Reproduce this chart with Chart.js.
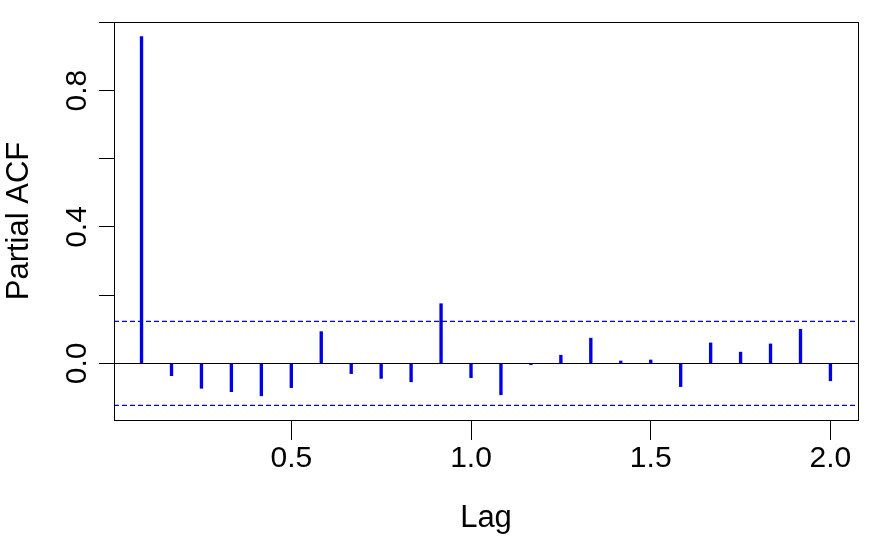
<!DOCTYPE html>
<html>
<head>
<meta charset="utf-8">
<script src="https://cdn.jsdelivr.net/npm/chart.js@4/dist/chart.umd.min.js"></script>
<style>
  body { margin: 0; background: #fff; }
  #wrap { width: 880px; height: 536px; position: relative; }
</style>
</head>
<body>
<div id="wrap"><canvas id="myChart"></canvas></div>
<script>
// lag (in years, monthly series) and partial autocorrelation
const lags = [0.0833, 0.1667, 0.25, 0.3333, 0.4167, 0.5, 0.5833, 0.6667, 0.75, 0.8333, 0.9167, 1.0,
              1.0833, 1.1667, 1.25, 1.3333, 1.4167, 1.5, 1.5833, 1.6667, 1.75, 1.8333, 1.9167, 2.0];
const pacf = [0.958, -0.036, -0.073, -0.083, -0.095, -0.071, 0.093, -0.030, -0.044, -0.054, 0.175, -0.042,
              -0.092, -0.004, 0.024, 0.074, 0.007, 0.010, -0.068, 0.060, 0.033, 0.057, 0.100, -0.051];

// 95% bounds
const ciUpper = 0.123;
const ciLower = -0.123;

const xTicks = [0.5, 1.0, 1.5, 2.0];
const yTicks = [0.0, 0.2, 0.4, 0.6, 0.8, 1.0];
const yLabelled = [0.0, 0.4, 0.8];

const xMin = 0.0067, xMax = 2.0767;
const yMin = -0.166, yMax = 1.001;

const fontFam = "'Liberation Sans', Arial, sans-serif";

// box around the plot region
const boxPlugin = {
  id: 'box',
  afterDraw(chart) {
    const a = chart.chartArea;
    const ctx = chart.ctx;
    ctx.save();
    ctx.strokeStyle = '#000';
    ctx.lineWidth = 1;
    ctx.strokeRect(Math.round(a.left) + 0.5, Math.round(a.top) + 0.5,
                   Math.round(a.right - a.left), Math.round(a.bottom - a.top));
    ctx.restore();
  }
};

const data = {
  datasets: [
    {
      type: 'bar',
      label: 'PACF',
      data: lags.map((l, i) => ({ x: l, y: pacf[i] })),
      backgroundColor: '#0000e6',
      borderWidth: 0,
      barThickness: 2.7,
      order: 2
    },
    {
      type: 'line',
      label: 'upper',
      data: [{ x: xMin, y: ciUpper }, { x: xMax, y: ciUpper }],
      borderColor: '#0000c8',
      borderWidth: 1.2,
      borderDash: [5, 3],
      pointRadius: 0,
      order: 1
    },
    {
      type: 'line',
      label: 'lower',
      data: [{ x: xMin, y: ciLower }, { x: xMax, y: ciLower }],
      borderColor: '#0000c8',
      borderWidth: 1.2,
      borderDash: [5, 3],
      pointRadius: 0,
      order: 1
    }
  ]
};

const config = {
  type: 'bar',
  data: data,
  plugins: [boxPlugin],
  options: {
    responsive: true,
    maintainAspectRatio: false,
    animation: false,
    layout: { padding: { top: 22, right: 22, left: 0, bottom: 0 } },
    plugins: {
      legend: { display: false },
      tooltip: { enabled: false }
    },
    scales: {
      x: {
        type: 'linear',
        min: xMin,
        max: xMax,
        offset: false,
        afterBuildTicks: (s) => { s.ticks = xTicks.map(v => ({ value: v })); },
        afterFit: (s) => { s.height = 116; },
        grid: {
          drawOnChartArea: false,
          offset: false,
          tickLength: 20,
          tickColor: '#000',
          color: '#000'
        },
        border: { display: false },
        ticks: {
          color: '#000',
          padding: 1,
          maxRotation: 0,
          font: { family: fontFam, size: 30 },
          callback: (v) => Number(v).toFixed(1)
        },
        title: {
          display: true,
          text: 'Lag',
          color: '#000',
          padding: { top: 0, bottom: 0 },
          font: { family: fontFam, size: 31, lineHeight: 1.12 }
        }
      },
      y: {
        min: yMin,
        max: yMax,
        afterBuildTicks: (s) => { s.ticks = yTicks.map(v => ({ value: v })); },
        afterFit: (s) => { s.width = 114; },
        grid: {
          drawOnChartArea: true,
          tickLength: 15,
          tickColor: '#000',
          color: (c) => (c.tick && c.tick.value === 0 ? '#000' : 'rgba(0,0,0,0)')
        },
        border: { display: false },
        ticks: {
          color: '#000',
          padding: 0,
          minRotation: 90,
          maxRotation: 90,
          crossAlign: 'center',
          font: { family: fontFam, size: 30 },
          callback: (v) => (yLabelled.some(t => Math.abs(t - v) < 1e-9) ? Number(v).toFixed(1) : '')
        },
        title: {
          display: true,
          text: 'Partial ACF',
          color: '#000',
          padding: { top: 1, bottom: 0 },
          font: { family: fontFam, size: 31 }
        }
      }
    }
  }
};

const myChart = new Chart(document.getElementById('myChart'), config);
</script>
</body>
</html>
